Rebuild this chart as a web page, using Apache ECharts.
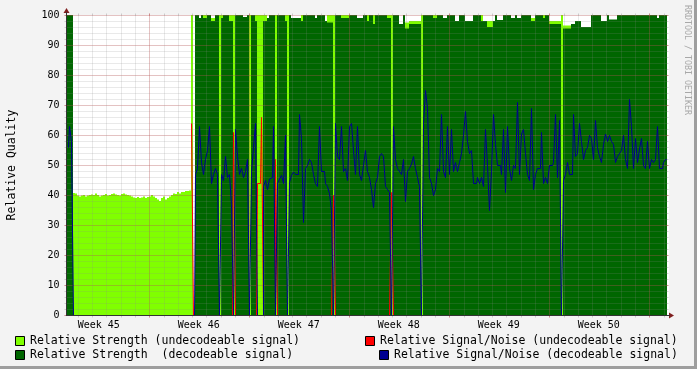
<!DOCTYPE html>
<html><head><meta charset="utf-8">
<script src="https://cdn.jsdelivr.net/npm/echarts@6/dist/echarts.min.js"></script>
<style>html,body{margin:0;padding:0;background:#F3F3F3}#c{width:697px;height:369px}</style>
</head><body><div id="c"></div>
<script>
const _ = null;
// one sample = 1/50 week (~3.4 h); 300 samples over six weeks
// Relative Strength (undecodeable signal)
const strengthUndec = [
 _,_,_,40.7,40.5,39.8,39.5,39.8,40,39.5,
 39.8,40,40.2,40,40.5,40,39.5,39.8,40,40.3,
 39.8,40,40.3,40.5,40.2,40,39.8,40.3,40.5,40.2,
 40,39.8,39.5,39.2,39,39.3,39,39.2,39.5,39,
 39.3,39.5,40,39.5,39,38.5,38,39,39.5,38.5,
 39,39.5,40,40.5,40.3,41,40.5,41,41,41.3,
 41.3,41.5,100,_,_,_,_,_,100,100,
 _,_,99,99,_,_,100,100,_,_,
 _,100,100,100,_,_,_,_,_,_,
 _,100,_,_,100,100,100,100,100,100,
 _,_,_,_,100,_,_,_,_,100,
 100,_,_,_,_,_,_,100,_,_,
 _,_,_,_,_,_,_,_,_,_,
 100,100,100,100,_,_,_,100,100,100,
 100,_,_,_,_,_,_,_,_,_,
 100,_,_,100,_,_,_,_,_,_,
 100,100,100,_,_,_,_,_,_,97.5,
 97.5,98,98,98,98,98,98,100,_,_,
 _,_,_,100,100,_,_,_,_,_,
 _,_,_,_,_,_,_,_,_,_,
 _,_,_,_,_,_,_,100,_,_,
 98,98,98,_,_,_,_,_,_,_,
 _,_,_,_,_,_,_,_,_,_,
 _,_,99,99,_,_,_,_,100,_,
 _,98,98,98,98,98,98,100,96.5,96.5,
 96.5,96.5,_,_,_,_,_,_,_,_,
 _,_,_,_,_,_,_,_,_,_,
 _,_,_,_,_,_,_,_,_,_,
 _,_,_,_,_,_,_,_,_,_,
 _,_,_,_,_,_,_,_,_,_
];
// Relative Strength (decodeable signal)
const strengthDec = [
 100,100,100,_,_,_,_,_,_,_,
 _,_,_,_,_,_,_,_,_,_,
 _,_,_,_,_,_,_,_,_,_,
 _,_,_,_,_,_,_,_,_,_,
 _,_,_,_,_,_,_,_,_,_,
 _,_,_,_,_,_,_,_,_,_,
 _,_,_,_,100,100,99,100,99,99,
 100,100,98,98,100,100,_,99,100,100,
 100,98,98,_,100,100,100,100,99.3,99.3,
 100,_,100,100,98,_,_,_,98,98,
 99,100,100,100,_,100,100,100,100,98,
 _,100,99,99,99,99,99,98,100,100,
 100,100,100,100,99,100,100,100,100,98,
 97.5,97.5,97.5,_,100,100,100,99,99,99,
 99,100,100,100,100,99,99,99,100,100,
 98,100,100,97,100,100,100,100,100,100,
 99,99,_,100,100,100,97,97,100,95.5,
 95.5,97,97,97,97,97,97,_,100,100,
 100,100,100,99,99,100,100,100,99,99,
 100,100,100,100,98,98,100,100,100,98,
 98,98,98,100,100,100,100,98,98,98,
 96,96,96,98,100,98.3,98.3,98.3,100,100,
 100,100,99,99,100,99,99,100,100,100,
 100,100,98,98,100,100,100,100,99,100,
 100,97,97,97,97,97,97,_,95.5,95.5,
 95.5,95.5,97,97,98,98,98,96,96,96,
 96,96,100,100,100,100,100,98,98,98,
 100,98.5,98.5,98.5,98.5,100,100,100,100,100,
 100,100,100,100,100,100,100,100,100,100,
 100,100,100,100,100,99,100,100,100,100
];
// Relative Signal/Noise (undecodeable signal)
const snrUndec = [
 _,_,_,_,_,_,_,_,_,_,
 _,_,_,_,_,_,_,_,_,_,
 _,_,_,_,_,_,_,_,_,_,
 _,_,_,_,_,_,_,_,_,_,
 _,_,_,_,_,_,_,_,_,_,
 _,_,_,_,_,_,_,_,_,_,
 _,_,64,0,0,0,0,0,0,0,
 0,0,0,0,0,0,0,0,0,0,
 0,0,0,61,0,0,0,0,0,0,
 0,0,0,0,0,44,44,66,0,0,
 0,0,0,0,52,0,0,0,0,0,
 0,0,0,0,0,0,0,0,0,0,
 0,0,0,0,0,0,0,0,0,0,
 0,0,0,40,0,0,0,0,0,0,
 0,0,0,0,0,0,0,0,0,0,
 0,0,0,0,0,0,0,0,0,0,
 0,0,41,0,0,0,0,0,0,0,
 0,0,0,0,0,0,0,0,0,0,
 0,0,0,0,0,0,0,0,0,0,
 0,0,0,0,0,0,0,0,0,0,
 0,0,0,0,0,0,0,0,0,0,
 0,0,0,0,0,0,0,0,0,0,
 0,0,0,0,0,0,0,0,0,0,
 0,0,0,0,0,0,0,0,0,0,
 0,0,0,0,0,0,0,0,0,0,
 0,0,0,0,0,0,0,0,0,0,
 0,0,0,0,0,0,0,0,0,0,
 0,0,0,0,0,0,0,0,0,0,
 0,0,0,0,0,0,0,0,0,0,
 0,0,0,0,0,0,0,0,0,0
];
// Relative Signal/Noise (decodeable signal)
const snrDec = [
 56,63,58,0,_,_,_,_,_,_,
 _,_,_,_,_,_,_,_,_,_,
 _,_,_,_,_,_,_,_,_,_,
 _,_,_,_,_,_,_,_,_,_,
 _,_,_,_,_,_,_,_,_,_,
 _,_,_,_,_,_,_,_,_,_,
 _,_,0,0,47,49,63,51,47,52,
 55,63,44,47,49,47,0,47,45,53,
 46,47,37,0,62,53,47,49,46,48,
 52,0,48,56,64,0,0,0,43,45,
 42,45.5,46,63,0,44,45.5,46.7,44,60,
 0,44.4,46.7,47.8,47,47,67,59,31,49,
 50,52,51,47,44,43,63,48,48,44,
 43,40.6,35,0,64,53,52,63,48,49,
 45,63,64,55,47,63,47,45,50,55,
 48,46,42,36,44,46,53,54,53,43,
 42,41,0,63,52,49,48,47,52,38,
 48,49,50.5,53,49,46,43,0,64,75,
 69,46,44,40,42,49,48,67,48,46,
 63,47,62,48,51,48,51,54,60,68,
 58,54,55,44,44,46,44,46,43,62,
 50,35,48,67,57,50,50,47,62,41,
 63,49,45,50,49,71,47,60.5,62,54,
 47,45,69,42,47,49,49,61,44,46,
 44,50,50,51,67,46,65,0,45,47,
 51,47,47,67,53,54,64,58,52,55,
 56,60,59,52,65,56,53,51,57,60.5,
 58,60,58,57,51,53,54,55,60,52,
 49,72,63,49,59,51,55.5,59,50,49,
 58,49,52,51,52,63,49,49,51,52
];
const weekLabels = ['Week 45','Week 46','Week 47','Week 48','Week 49','Week 50'];
const legendNames = [
 'Relative Strength (undecodeable signal)',
 'Relative Signal/Noise (undecodeable signal)',
 'Relative Strength  (decodeable signal)',
 'Relative Signal/Noise (decodeable signal)'
];
const colors = {lightGreen:'#80FF00', red:'#FF0000', darkGreen:'#006600', blue:'#000090'};

const samples = strengthDec.map((_v, i) => String(i));
const mono = '"DejaVu Sans Mono"';
const minorColor = 'rgba(140,140,140,0.38)';
const majorColor = 'rgba(210,50,50,0.42)';
const dash = [1, 1];
const hidden = (g) => ({gridIndex: g, type: 'value', min: 0, max: 1, show: false, axisLine: {onZero: false}});
const gridAxis = (g, min, max, interval, color, position, split, extra) => Object.assign({
  gridIndex: g, type: 'value', min: min, max: max, interval: interval, position: position, zlevel: 1, z: 3,
  axisLine: {show: false, onZero: false},
  axisLabel: {show: false},
  axisTick: {show: true, length: 2, lineStyle: {color: color, width: 1}},
  splitLine: {show: split, lineStyle: {color: color, type: dash, width: 1}}
}, extra || {});

const chart = echarts.init(document.getElementById('c'), null, {renderer: 'canvas'});
chart.setOption({
  animation: false,
  backgroundColor: '#F3F3F3',
  grid: [
    {left: 67, top: 15, width: 600, height: 300, show: true, backgroundColor: '#FFFFFF', borderWidth: 0},
    {left: 67.5, top: 15.5, width: 600, height: 300},
    {left: 66.5, top: 15.5, width: 600, height: 300},
    {left: 78.07, top: 15.5, width: 585.714, height: 300},
    {left: 149.5, top: 15.5, width: 500, height: 300},
    {left: 98.8, top: 15.5, width: 500, height: 300},
    {left: 66.5, top: 12.5, width: 603, height: 303}
  ],
  xAxis: [
    {gridIndex: 0, type: 'category', data: samples, show: false},
    {gridIndex: 1, type: 'category', data: samples, show: false},
    hidden(2),
    gridAxis(3, 0, 41, 1, minorColor, 'bottom', true),
    gridAxis(3, 0, 41, 1, minorColor, 'top', false),
    gridAxis(4, 0, 35, 7, majorColor, 'bottom', true),
    gridAxis(4, 0, 35, 7, majorColor, 'top', false),
    {gridIndex: 5, type: 'value', min: 0, max: 35, interval: 7, position: 'bottom',
     axisLine: {show: false, onZero: false}, axisTick: {show: false}, splitLine: {show: false},
     axisLabel: {show: true, showMinLabel: true, showMaxLabel: true, margin: 5,
       formatter: (v) => weekLabels[Math.round(v / 7)], fontFamily: mono, fontSize: 10, color: '#000'}},
    {gridIndex: 6, type: 'value', min: 0, max: 1, position: 'bottom', zlevel: 3, z: 5,
     axisLine: {show: true, onZero: false, symbol: ['none', 'triangle'], symbolSize: [6, 5], symbolOffset: [0, 2],
       lineStyle: {color: '#7F1F1F', width: 1}},
     axisTick: {show: false}, axisLabel: {show: false}, splitLine: {show: false}},
    {gridIndex: 6, type: 'value', min: 0, max: 1, position: 'bottom', zlevel: 4, z: 6,
     axisLine: {show: true, onZero: false, lineStyle: {color: '#333333', width: 1}},
     axisTick: {show: false}, axisLabel: {show: false}, splitLine: {show: false}}
  ],
  yAxis: [
    {gridIndex: 0, type: 'value', min: 0, max: 100, show: false},
    {gridIndex: 1, type: 'value', min: 0, max: 100, show: false},
    gridAxis(2, 0, 100, 2, minorColor, 'left', true),
    gridAxis(2, 0, 100, 10, majorColor, 'left', true, {
      axisLabel: {show: true, showMinLabel: true, showMaxLabel: true, margin: 7,
        fontFamily: mono, fontSize: 10, color: '#000'}}),
    gridAxis(2, 0, 100, 2, minorColor, 'right', false),
    gridAxis(2, 0, 100, 10, majorColor, 'right', false),
    hidden(3), hidden(4), hidden(5),
    {gridIndex: 6, type: 'value', min: 0, max: 1, position: 'left', zlevel: 3, z: 5,
     axisLine: {show: true, onZero: false, symbol: ['none', 'triangle'], symbolSize: [6, 5], symbolOffset: [0, 2],
       lineStyle: {color: '#7F1F1F', width: 1}},
     axisTick: {show: false}, axisLabel: {show: false}, splitLine: {show: false}},
    {gridIndex: 6, type: 'value', min: 0, max: 1, position: 'left', zlevel: 4, z: 6,
     axisLine: {show: true, onZero: false, lineStyle: {color: '#333333', width: 1}},
     axisTick: {show: false}, axisLabel: {show: false}, splitLine: {show: false}}
  ],
  series: [
    {name: legendNames[0], type: 'bar', xAxisIndex: 0, yAxisIndex: 0, data: strengthUndec,
     barCategoryGap: '0%', barGap: '-100%', itemStyle: {color: colors.lightGreen}, silent: true, z: 2},
    {name: legendNames[2], type: 'bar', xAxisIndex: 0, yAxisIndex: 0, data: strengthDec,
     barCategoryGap: '0%', barGap: '-100%', itemStyle: {color: colors.darkGreen}, silent: true, z: 2},
    {name: legendNames[1], type: 'line', xAxisIndex: 1, yAxisIndex: 1, data: snrUndec, step: 'middle',
     showSymbol: false, symbol: 'none', connectNulls: false, lineStyle: {color: colors.red, width: 1}, silent: true, zlevel: 2, z: 4},
    {name: legendNames[3], type: 'line', xAxisIndex: 1, yAxisIndex: 1, data: snrDec, step: 'middle',
     showSymbol: false, symbol: 'none', connectNulls: false, lineStyle: {color: colors.blue, width: 1}, silent: true, zlevel: 2, z: 4}
  ],
  graphic: [
    {type: 'rect', shape: {x: 667, y: 15, width: 2, height: 300}, style: {fill: '#FFFFFF'}, silent: true},
    {type: 'rect', shape: {x: 0, y: 366, width: 697, height: 3}, style: {fill: '#9E9E9E'}, silent: true},
    {type: 'rect', shape: {x: 694, y: 0, width: 3, height: 369}, style: {fill: '#9E9E9E'}, silent: true},
    {type: 'text', x: 12, y: 165, rotation: Math.PI / 2,
     style: {text: 'Relative Quality', font: '11.5px ' + mono, fill: '#000', align: 'center', verticalAlign: 'middle', textAlign: 'center', textVerticalAlign: 'middle'}},
    {type: 'text', x: 687.5, y: 5, rotation: -Math.PI / 2,
     style: {text: 'RRDTOOL / TOBI OETIKER', font: '8.3px ' + mono, fill: '#A8A8A8', align: 'left', verticalAlign: 'middle', textAlign: 'left', textVerticalAlign: 'middle'}},
    {type: 'rect', shape: {x: 15.5, y: 336.5, width: 9, height: 9}, style: {fill: colors.lightGreen, stroke: '#000', lineWidth: 1}},
    {type: 'text', x: 30, y: 341, style: {text: legendNames[0], font: '11.5px ' + mono, fill: '#000', verticalAlign: 'middle', textVerticalAlign: 'middle'}},
    {type: 'rect', shape: {x: 365.5, y: 336.5, width: 9, height: 9}, style: {fill: colors.red, stroke: '#000', lineWidth: 1}},
    {type: 'text', x: 380, y: 341, style: {text: legendNames[1], font: '11.5px ' + mono, fill: '#000', verticalAlign: 'middle', textVerticalAlign: 'middle'}},
    {type: 'rect', shape: {x: 15.5, y: 350.5, width: 9, height: 9}, style: {fill: colors.darkGreen, stroke: '#000', lineWidth: 1}},
    {type: 'text', x: 30, y: 355, style: {text: legendNames[2], font: '11.5px ' + mono, fill: '#000', verticalAlign: 'middle', textVerticalAlign: 'middle'}},
    {type: 'rect', shape: {x: 379.5, y: 350.5, width: 9, height: 9}, style: {fill: colors.blue, stroke: '#000', lineWidth: 1}},
    {type: 'text', x: 394, y: 355, style: {text: legendNames[3], font: '11.5px ' + mono, fill: '#000', verticalAlign: 'middle', textVerticalAlign: 'middle'}}
  ]
});
</script>
</body></html>
